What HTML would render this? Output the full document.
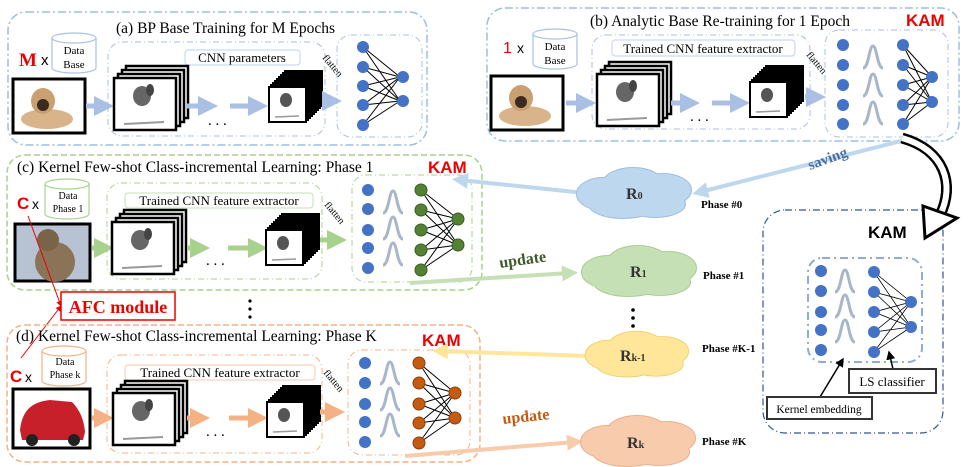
<!DOCTYPE html>
<html><head><meta charset="utf-8"><style>
html,body{margin:0;padding:0;background:#fff;}
svg{display:block;font-family:"Liberation Serif",serif;}
</style></head><body>
<svg width="979" height="467" viewBox="0 0 979 467" xmlns="http://www.w3.org/2000/svg">
<defs>
<marker id="mb" markerWidth="4" markerHeight="4" refX="2" refY="2" orient="auto"><path d="M0,0 L4,2 L0,4 Z" fill="#a9c0e4"/></marker>
<marker id="mg" markerWidth="4" markerHeight="4" refX="2" refY="2" orient="auto"><path d="M0,0 L4,2 L0,4 Z" fill="#a9d18e"/></marker>
<marker id="mo" markerWidth="4" markerHeight="4" refX="2" refY="2" orient="auto"><path d="M0,0 L4,2 L0,4 Z" fill="#f4b183"/></marker>
<marker id="mlb" markerWidth="4" markerHeight="4" refX="2" refY="2" orient="auto"><path d="M0,0 L4,2 L0,4 Z" fill="#bdd7ee"/></marker>
<marker id="mlg" markerWidth="4" markerHeight="4" refX="2" refY="2" orient="auto"><path d="M0,0 L4,2 L0,4 Z" fill="#c5e0b4"/></marker>
<marker id="mly" markerWidth="4" markerHeight="4" refX="2" refY="2" orient="auto"><path d="M0,0 L4,2 L0,4 Z" fill="#ffe699"/></marker>
<marker id="mlo" markerWidth="4" markerHeight="4" refX="2" refY="2" orient="auto"><path d="M0,0 L4,2 L0,4 Z" fill="#f8cbad"/></marker>
<marker id="mr" markerWidth="6" markerHeight="6" refX="5" refY="3" orient="auto"><path d="M0,0 L6,3 L0,6 Z" fill="#e00"/></marker>
<marker id="mk" markerWidth="6" markerHeight="6" refX="5" refY="3" orient="auto"><path d="M0,0 L6,3 L0,6 Z" fill="#000"/></marker>
<g id="fm"><rect width="62" height="52" fill="#fff" stroke="#000" stroke-width="2.5"/></g>
<g id="big">
 <use href="#fm" x="12" y="-12"/><use href="#fm" x="8" y="-8"/><use href="#fm" x="4" y="-4"/><use href="#fm"/>
 <ellipse cx="28" cy="18" rx="9" ry="10" fill="#666"/><ellipse cx="36" cy="12" rx="4" ry="6" fill="#444"/>
 <path d="M10,46 L50,44" stroke="#999" stroke-width="2"/>
</g>
<g id="sfm"><rect width="37" height="35" fill="#fff" stroke="#000" stroke-width="2"/></g>
<g id="small">
 <use href="#sfm" x="16" y="-16"/><use href="#sfm" x="14" y="-14"/><use href="#sfm" x="12" y="-12"/><use href="#sfm" x="10" y="-10"/><use href="#sfm" x="8" y="-8"/><use href="#sfm" x="6" y="-6"/><use href="#sfm" x="4" y="-4"/><use href="#sfm" x="2" y="-2"/><use href="#sfm"/>
 <ellipse cx="17" cy="13" rx="6" ry="7" fill="#555"/><path d="M6,30 L30,29" stroke="#999" stroke-width="1.5"/>
</g>
<g id="gauss"><path d="M-10,10 C-4,10 -4,-12 0,-12 C4,-12 4,10 10,10" fill="none" stroke="#a9b6c9" stroke-width="3"/></g>
<g id="cyl"><path d="M0,6 L0,36 A22,5 0 0 0 44,36 L44,6" fill="#fff" stroke="#a9c0e4" stroke-width="1.2"/><ellipse cx="22" cy="6" rx="22" ry="5" fill="#fff" stroke="#a9c0e4" stroke-width="1.2"/></g>
<g id="cylg"><path d="M0,6 L0,36 A22,5 0 0 0 44,36 L44,6" fill="#fff" stroke="#a9d18e" stroke-width="1.2"/><ellipse cx="22" cy="6" rx="22" ry="5" fill="#fff" stroke="#a9d18e" stroke-width="1.2"/></g>
<g id="cylo"><path d="M0,6 L0,36 A22,5 0 0 0 44,36 L44,6" fill="#fff" stroke="#f4b183" stroke-width="1.2"/><ellipse cx="22" cy="6" rx="22" ry="5" fill="#fff" stroke="#f4b183" stroke-width="1.2"/></g>
<g id="dog"><rect width="72" height="54" fill="#fff" stroke="#000" stroke-width="3"/><ellipse cx="34" cy="40" rx="26" ry="10" fill="#d9b48a"/><ellipse cx="30" cy="22" rx="12" ry="13" fill="#c9a070"/><ellipse cx="30" cy="26" rx="6" ry="6" fill="#3a2a20"/></g>
<g id="cloud">
 <ellipse cx="-30" cy="0" rx="26" ry="16"/><ellipse cx="0" cy="-10" rx="30" ry="16"/><ellipse cx="30" cy="-4" rx="28" ry="16"/><ellipse cx="-10" cy="10" rx="34" ry="14"/><ellipse cx="22" cy="10" rx="30" ry="13"/><ellipse cx="0" cy="0" rx="45" ry="16"/>
</g>
</defs>

<!-- Panel a -->
<rect x="8" y="12" width="419" height="133" rx="18" fill="none" stroke="#9dbde3" stroke-width="1.5" stroke-dasharray="8,3,2,3"/>
<text x="116" y="33" font-size="15.5">(a) BP Base Training for M Epochs</text>
<text x="19" y="66" font-size="19" font-weight="bold" fill="#e00">M</text>
<text x="41" y="65" font-size="15" font-family="Liberation Sans,sans-serif">x</text>
<use href="#cyl" x="52" y="32"/>
<text x="74" y="54" font-size="11" text-anchor="middle">Data</text>
<text x="74" y="68" font-size="11" text-anchor="middle">Base</text>
<use href="#dog" x="13" y="79"/>
<rect x="108" y="42" width="217" height="94" rx="14" fill="none" stroke="#a9c0e4" stroke-dasharray="6,3,1,3"/>
<rect x="185" y="50" width="115" height="15" rx="3" fill="#fff" stroke="#bfd2ec"/>
<text x="242" y="62" font-size="13" text-anchor="middle">CNN parameters</text>
<line x1="86" y1="106" x2="104" y2="106" stroke="#a9c0e4" stroke-width="5" marker-end="url(#mb)"/>
<use href="#big" x="114" y="78"/>
<line x1="187" y1="106" x2="208" y2="106" stroke="#a9c0e4" stroke-width="5" marker-end="url(#mb)"/>
<text x="208" y="125" font-size="15">. . .</text>
<line x1="230" y1="106" x2="258" y2="106" stroke="#a9c0e4" stroke-width="5" marker-end="url(#mb)"/>
<use href="#small" x="269" y="87"/>
<line x1="322" y1="101" x2="332" y2="101" stroke="#a9c0e4" stroke-width="5" marker-end="url(#mb)"/>
<text x="322" y="58" font-size="10" transform="rotate(50 322 58)">flatten</text>
<rect x="337" y="35" width="85" height="102" rx="14" fill="none" stroke="#a9c0e4" stroke-dasharray="6,3,1,3"/>
<g stroke="#000" stroke-width="1">
<path d="M363,47 L400,77 M363,47 L400,101 M363,67 L400,77 M363,67 L400,101 M363,86 L400,77 M363,86 L400,101 M363,105 L400,77 M363,105 L400,101 M363,125 L400,77 M363,125 L400,101"/>
</g>
<g fill="#4472c4"><circle cx="363" cy="47" r="6"/><circle cx="363" cy="67" r="6"/><circle cx="363" cy="86" r="6"/><circle cx="363" cy="105" r="6"/><circle cx="363" cy="125" r="6"/><circle cx="403" cy="77" r="6"/><circle cx="403" cy="101" r="6"/></g>

<!-- Panel b -->
<rect x="487" y="8" width="472" height="133" rx="18" fill="none" stroke="#9dbde3" stroke-width="1.5" stroke-dasharray="8,3,2,3"/>
<text x="590" y="26" font-size="15.5">(b) Analytic Base Re-training for 1 Epoch</text>
<text x="906" y="26" font-size="17" font-weight="bold" fill="#e00" font-family="Liberation Sans,sans-serif">KAM</text>
<text x="503" y="53" font-size="16" fill="#e00" font-family="Liberation Sans,sans-serif">1</text>
<text x="517" y="53" font-size="14" font-family="Liberation Sans,sans-serif">x</text>
<use href="#cyl" x="533" y="28"/>
<text x="555" y="50" font-size="11" text-anchor="middle">Data</text>
<text x="555" y="64" font-size="11" text-anchor="middle">Base</text>
<use href="#dog" x="491" y="76"/>
<rect x="592" y="35" width="218" height="94" rx="14" fill="none" stroke="#a9c0e4" stroke-dasharray="6,3,1,3"/>
<rect x="612" y="40" width="183" height="16" rx="3" fill="#fff" stroke="#bfd2ec"/>
<text x="703" y="53" font-size="13" text-anchor="middle">Trained CNN feature extractor</text>
<line x1="566" y1="103" x2="586" y2="103" stroke="#a9c0e4" stroke-width="5" marker-end="url(#mb)"/>
<use href="#big" x="597" y="74"/>
<line x1="671" y1="103" x2="690" y2="103" stroke="#a9c0e4" stroke-width="5" marker-end="url(#mb)"/>
<text x="690" y="121" font-size="15">. . .</text>
<line x1="712" y1="103" x2="740" y2="103" stroke="#a9c0e4" stroke-width="5" marker-end="url(#mb)"/>
<use href="#small" x="750" y="82"/>
<text x="806" y="55" font-size="10" transform="rotate(50 806 55)">flatten</text>
<line x1="805" y1="97" x2="816" y2="97" stroke="#a9c0e4" stroke-width="5" marker-end="url(#mb)"/>
<rect x="825" y="30" width="123" height="107" rx="14" fill="none" stroke="#a9c0e4" stroke-dasharray="6,3,1,3"/>
<use href="#gauss" x="873" y="58"/><use href="#gauss" x="873" y="86"/><use href="#gauss" x="873" y="114"/>
<g stroke="#000" stroke-width="1"><path d="M903,45 L932,77 M903,45 L932,102 M903,65 L932,77 M903,65 L932,102 M903,85 L932,77 M903,85 L932,102 M903,105 L932,77 M903,105 L932,102 M903,124 L932,77 M903,124 L932,102"/></g>
<g fill="#4472c4"><circle cx="843" cy="45" r="6"/><circle cx="843" cy="65" r="6"/><circle cx="843" cy="85" r="6"/><circle cx="843" cy="105" r="6"/><circle cx="843" cy="124" r="6"/>
<circle cx="903" cy="45" r="6"/><circle cx="903" cy="65" r="6"/><circle cx="903" cy="85" r="6"/><circle cx="903" cy="105" r="6"/><circle cx="903" cy="124" r="6"/><circle cx="932" cy="77" r="6"/><circle cx="932" cy="102" r="6"/></g>

<!-- Panel c -->
<rect x="7" y="155" width="475" height="135" rx="18" fill="none" stroke="#a9d18e" stroke-width="1.5" stroke-dasharray="6,3"/>
<text x="17" y="172" font-size="15.5">(c) Kernel Few-shot Class-incremental Learning: Phase 1</text>
<text x="428" y="173" font-size="17" font-weight="bold" fill="#e00" font-family="Liberation Sans,sans-serif">KAM</text>
<text x="17" y="209" font-size="17" font-weight="bold" fill="#e00" font-family="Liberation Sans,sans-serif">C</text>
<text x="32" y="209" font-size="14" font-family="Liberation Sans,sans-serif">x</text>
<use href="#cylg" x="45" y="178"/>
<text x="68" y="199" font-size="10" text-anchor="middle">Data</text>
<text x="68" y="212" font-size="10" text-anchor="middle">Phase 1</text>
<rect x="15" y="224" width="75" height="57" fill="#b7c3d3" stroke="#000" stroke-width="3"/>
<ellipse cx="55" cy="262" rx="20" ry="20" fill="#8a7356"/><ellipse cx="48" cy="240" rx="11" ry="11" fill="#7a6448"/>
<rect x="107" y="183" width="215" height="96" rx="14" fill="none" stroke="#a9d18e" stroke-dasharray="6,3,1,3"/>
<rect x="125" y="193" width="188" height="15" rx="3" fill="#fff" stroke="#c5e0b4"/>
<text x="219" y="205" font-size="13" text-anchor="middle">Trained CNN feature extractor</text>
<line x1="92" y1="248" x2="104" y2="248" stroke="#a9d18e" stroke-width="5" marker-end="url(#mg)"/>
<use href="#big" x="112" y="222"/>
<line x1="187" y1="248" x2="200" y2="248" stroke="#a9d18e" stroke-width="5" marker-end="url(#mg)"/>
<text x="206" y="265" font-size="15">. . .</text>
<line x1="228" y1="248" x2="258" y2="248" stroke="#a9d18e" stroke-width="5" marker-end="url(#mg)"/>
<use href="#small" x="266" y="230"/>
<text x="324" y="205" font-size="10" transform="rotate(50 324 205)">flatten</text>
<line x1="320" y1="240" x2="337" y2="240" stroke="#a9d18e" stroke-width="5" marker-end="url(#mg)"/>
<rect x="352" y="175" width="120" height="107" rx="14" fill="none" stroke="#a9d18e" stroke-dasharray="6,3,1,3"/>
<use href="#gauss" x="393" y="203"/><use href="#gauss" x="393" y="229"/><use href="#gauss" x="393" y="255"/>
<g stroke="#000" stroke-width="1"><path d="M421,190 L458,219 M421,190 L458,245 M421,210 L458,219 M421,210 L458,245 M421,230 L458,219 M421,230 L458,245 M421,250 L458,219 M421,250 L458,245 M421,270 L458,219 M421,270 L458,245"/></g>
<g fill="#4472c4"><circle cx="368" cy="190" r="6"/><circle cx="368" cy="209" r="6"/><circle cx="368" cy="230" r="6"/><circle cx="368" cy="248" r="6"/><circle cx="368" cy="268" r="6"/></g>
<g fill="#548235" stroke="#3b5e24"><circle cx="421" cy="190" r="6"/><circle cx="421" cy="210" r="6"/><circle cx="421" cy="230" r="6"/><circle cx="421" cy="250" r="6"/><circle cx="421" cy="270" r="6"/><circle cx="458" cy="219" r="6"/><circle cx="458" cy="245" r="6"/></g>

<!-- AFC -->
<line x1="28" y1="216" x2="61" y2="306" stroke="#e00" stroke-width="1" marker-end="url(#mr)"/>
<line x1="21" y1="358" x2="61" y2="306" stroke="#e00" stroke-width="1" marker-end="url(#mr)"/>
<rect x="61" y="292" width="114" height="28" fill="#fff" stroke="#e00" stroke-width="1.5"/>
<text x="118" y="313" font-size="18" font-weight="bold" fill="#e00" text-anchor="middle">AFC module</text>
<g fill="#000"><circle cx="250" cy="301" r="1.6"/><circle cx="250" cy="309" r="1.6"/><circle cx="250" cy="317" r="1.6"/></g>

<!-- Panel d -->
<rect x="7" y="325" width="473" height="137" rx="18" fill="none" stroke="#f4b183" stroke-width="1.5" stroke-dasharray="6,3"/>
<text x="16" y="341" font-size="15.5">(d) Kernel Few-shot Class-incremental Learning: Phase K</text>
<text x="422" y="346" font-size="17" font-weight="bold" fill="#e00" font-family="Liberation Sans,sans-serif">KAM</text>
<text x="10" y="382" font-size="17" font-weight="bold" fill="#e00" font-family="Liberation Sans,sans-serif">C</text>
<text x="25" y="382" font-size="14" font-family="Liberation Sans,sans-serif">x</text>
<use href="#cylo" x="42" y="345"/>
<text x="65" y="365" font-size="10" text-anchor="middle">Data</text>
<text x="65" y="378" font-size="10" text-anchor="middle">Phase k</text>
<rect x="13" y="389" width="77" height="59" fill="#fff" stroke="#000" stroke-width="3"/>
<path d="M20,430 C22,412 30,402 50,400 L72,402 C80,410 84,420 85,432 L83,440 L22,440 Z" fill="#c8202a"/>
<circle cx="32" cy="440" r="6" fill="#222"/><circle cx="74" cy="440" r="6" fill="#222"/>
<rect x="107" y="355" width="215" height="98" rx="14" fill="none" stroke="#f4b183" stroke-dasharray="6,3,1,3"/>
<rect x="125" y="365" width="190" height="15" rx="3" fill="#fff" stroke="#f8cbad"/>
<text x="220" y="377" font-size="13" text-anchor="middle">Trained CNN feature extractor</text>
<line x1="92" y1="418" x2="104" y2="418" stroke="#f4b183" stroke-width="5" marker-end="url(#mo)"/>
<use href="#big" x="113" y="393"/>
<line x1="187" y1="418" x2="200" y2="418" stroke="#f4b183" stroke-width="5" marker-end="url(#mo)"/>
<text x="206" y="436" font-size="15">. . .</text>
<line x1="229" y1="418" x2="258" y2="418" stroke="#f4b183" stroke-width="5" marker-end="url(#mo)"/>
<use href="#small" x="267" y="402"/>
<text x="323" y="373" font-size="10" transform="rotate(50 323 373)">flatten</text>
<line x1="320" y1="412" x2="335" y2="412" stroke="#f4b183" stroke-width="5" marker-end="url(#mo)"/>
<rect x="348" y="350" width="122" height="105" rx="14" fill="none" stroke="#f4b183" stroke-dasharray="6,3,1,3"/>
<use href="#gauss" x="390" y="374"/><use href="#gauss" x="390" y="400"/><use href="#gauss" x="390" y="426"/>
<g stroke="#000" stroke-width="1"><path d="M419,363 L455,393 M419,363 L455,418 M419,383 L455,393 M419,383 L455,418 M419,404 L455,393 M419,404 L455,418 M419,423 L455,393 M419,423 L455,418 M419,443 L455,393 M419,443 L455,418"/></g>
<g fill="#4472c4"><circle cx="365" cy="363" r="6"/><circle cx="365" cy="383" r="6"/><circle cx="365" cy="404" r="6"/><circle cx="365" cy="422" r="6"/><circle cx="365" cy="442" r="6"/></g>
<g fill="#c55a11" stroke="#8f3f0b"><circle cx="419" cy="363" r="6"/><circle cx="419" cy="383" r="6"/><circle cx="419" cy="404" r="6"/><circle cx="419" cy="423" r="6"/><circle cx="419" cy="443" r="6"/><circle cx="455" cy="393" r="6"/><circle cx="455" cy="418" r="6"/></g>

<!-- connectors -->
<line x1="905" y1="140" x2="700" y2="192" stroke="#bdd7ee" stroke-width="4" marker-end="url(#mlb)"/>
<text x="810" y="170" font-size="15" font-weight="bold" fill="#4a6fa5" transform="rotate(-20 810 170)">saving</text>
<line x1="585" y1="193" x2="460" y2="180" stroke="#bdd7ee" stroke-width="4" marker-end="url(#mlb)"/>
<line x1="410" y1="283" x2="570" y2="273" stroke="#c5e0b4" stroke-width="4" marker-end="url(#mlg)"/>
<text x="500" y="268" font-size="16" font-weight="bold" fill="#3d5a2a" transform="rotate(-8 500 268)">update</text>
<line x1="588" y1="356" x2="440" y2="351" stroke="#ffe699" stroke-width="4" marker-end="url(#mly)"/>
<line x1="405" y1="456" x2="575" y2="442" stroke="#f8cbad" stroke-width="4" marker-end="url(#mlo)"/>
<text x="503" y="424" font-size="16" font-weight="bold" fill="#c55a11" transform="rotate(-6 503 424)">update</text>

<!-- clouds -->
<use href="#cloud" x="633" y="194" fill="#9fbfe0" stroke="#9fbfe0" stroke-width="2"/>
<use href="#cloud" x="633" y="194" fill="#bdd7ee"/>
<use href="#cloud" x="638" y="272" fill="#a9cf90" stroke="#a9cf90" stroke-width="2"/>
<use href="#cloud" x="638" y="272" fill="#c5e0b4"/>
<g transform="translate(636 355) scale(0.9) translate(-636 -355)">
<use href="#cloud" x="636" y="355" fill="#f0d070" stroke="#f0d070" stroke-width="2"/>
<use href="#cloud" x="636" y="355" fill="#ffe699"/>
</g>
<use href="#cloud" x="637" y="442" fill="#eab08e" stroke="#eab08e" stroke-width="2"/>
<use href="#cloud" x="637" y="442" fill="#f8cbad"/>
<g font-weight="bold" font-size="16" fill="#333">
<text x="626" y="199">R<tspan font-size="10">0</tspan></text>
<text x="630" y="277">R<tspan font-size="10">1</tspan></text>
<text x="620" y="361">R<tspan font-size="10">k-1</tspan></text>
<text x="627" y="448">R<tspan font-size="10">k</tspan></text>
</g>
<g fill="#000"><circle cx="633" cy="310" r="1.8"/><circle cx="633" cy="318" r="1.8"/><circle cx="633" cy="326" r="1.8"/></g>
<g font-weight="bold" font-size="11">
<text x="701" y="208">Phase #0</text><text x="703" y="279">Phase #1</text><text x="702" y="352">Phase #K-1</text><text x="702" y="445">Phase #K</text>
</g>

<!-- big curved arrow -->
<path d="M902,138 C945,150 955,185 940,215" fill="none" stroke="#000" stroke-width="11"/>
<path d="M902,138 C945,150 955,185 940,215" fill="none" stroke="#fff" stroke-width="6"/>

<!-- KAM box -->
<rect x="763" y="210" width="180" height="223" rx="22" fill="none" stroke="#2f5597" stroke-width="1.2" stroke-dasharray="7,3,1,3"/>
<polygon points="923,206 957,218 925,238" fill="#fff" stroke="#000" stroke-width="3"/>
<text x="868" y="238" font-size="17" font-weight="bold" font-family="Liberation Sans,sans-serif">KAM</text>
<rect x="808" y="258" width="114" height="104" rx="14" fill="none" stroke="#8faadc" stroke-width="2" stroke-dasharray="8,4,2,4"/>
<use href="#gauss" x="845" y="282"/><use href="#gauss" x="845" y="307"/><use href="#gauss" x="845" y="332"/>
<g stroke="#000" stroke-width="0.8"><path d="M874,272 L911,302 M874,272 L911,327 M874,292 L911,302 M874,292 L911,327 M874,312 L911,302 M874,312 L911,327 M874,332 L911,302 M874,332 L911,327 M874,352 L911,302 M874,352 L911,327"/></g>
<g fill="#4472c4"><circle cx="821" cy="271" r="6"/><circle cx="821" cy="291" r="6"/><circle cx="821" cy="312" r="6"/><circle cx="821" cy="330" r="6"/><circle cx="821" cy="350" r="6"/>
<circle cx="874" cy="272" r="6"/><circle cx="874" cy="292" r="6"/><circle cx="874" cy="312" r="6"/><circle cx="874" cy="332" r="6"/><circle cx="874" cy="352" r="6"/><circle cx="911" cy="302" r="6"/><circle cx="911" cy="327" r="6"/></g>
<line x1="820" y1="397" x2="843" y2="359" stroke="#000" stroke-width="1.5" marker-end="url(#mk)"/>
<line x1="893" y1="369" x2="889" y2="352" stroke="#000" stroke-width="1.5" marker-end="url(#mk)"/>
<rect x="849" y="369" width="87" height="24" fill="#fff" stroke="#333" stroke-width="2"/>
<text x="892" y="386" font-size="13" text-anchor="middle">LS classifier</text>
<rect x="767" y="397" width="105" height="22" fill="#fff" stroke="#333" stroke-width="2"/>
<text x="819" y="413" font-size="11.5" text-anchor="middle">Kernel embedding</text>
</svg>
</body></html>
